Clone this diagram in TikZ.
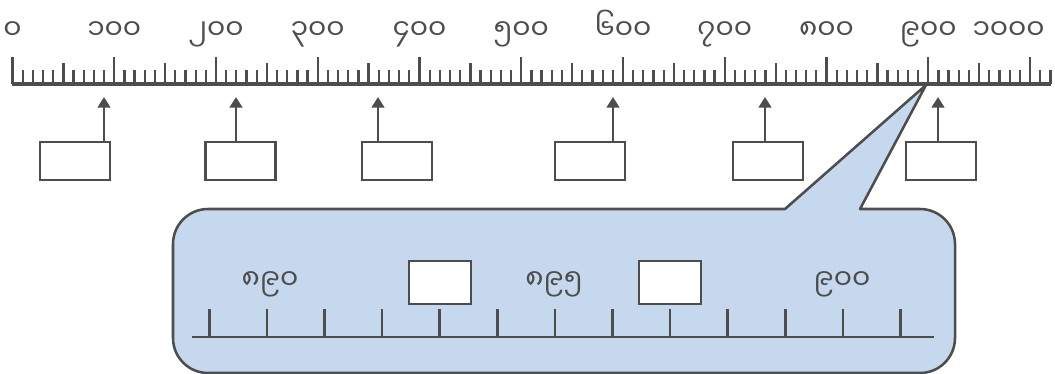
\documentclass[tikz,border=0pt]{standalone}
\usepackage{fontspec}
\newfontfamily\mmfont[Script=Myanmar]{Noto Sans Myanmar UI}
\usetikzlibrary{arrows.meta}
\definecolor{edgegray}{HTML}{4D4D4D}
\definecolor{calloutblue}{HTML}{C5D8EE}
\tikzset{
  numlabel/.style={font=\mmfont\fontsize{21}{23}\selectfont, text=edgegray, anchor=base, inner sep=0pt},
  tickline/.style={draw=edgegray, line width=1.7pt},
  markbox/.style={draw=edgegray, line width=1.9pt, fill=white, inner sep=0pt,
                  minimum width=52.5pt, minimum height=28.5pt},
  zoombox/.style={markbox, minimum width=46.5pt, minimum height=32.25pt},
  pointer/.style={draw=edgegray, line width=1.9pt, -{Triangle[length=8pt,width=9.5pt]}}
}
\begin{document}
\begin{tikzpicture}[x=0.75pt,y=-0.75pt]
\useasboundingbox (0,0) rectangle (1055,374);
% main ruler
\draw[edgegray, line width=2.4pt] (11.5,84) -- (1051,84);
\foreach \i in {0,...,102} \draw[tickline] (12.5+10.175*\i,84) -- ++(0,-14);
\foreach \i in {5,15,...,95} \draw[tickline] (12.5+10.175*\i,84) -- ++(0,-21);
\foreach \i in {0,10,...,100} \draw[tickline] (12.5+10.175*\i,84) -- ++(0,-27);
\foreach \v/\t in {0/၀,1/၁၀၀,2/၂၀၀,3/၃၀၀,4/၄၀၀,5/၅၀၀,6/၆၀၀,7/၇၀၀,8/၈၀၀,9/၉၀၀}
  \node[numlabel] (n\v) at (12.5+101.75*\v,39.5) {\t};
\node[numlabel, anchor=base east] (n10) at (1045,39.5) {၁၀၀၀};
% boxes below the ruler
\node[markbox] (m1) at (75,161) {};
\node[markbox] (m2) at (240.5,161) {};
\node[markbox] (m3) at (397,161) {};
\node[markbox] (m4) at (590,161) {};
\node[markbox] (m5) at (768,161) {};
\node[markbox] (m6) at (941,161) {};
\foreach \k/\x in {1/104,2/236,3/378,4/613,5/765,6/938} {
  \coordinate (p\k) at (\x,97);
  \draw[pointer] (p\k |- m\k.north) -- (p\k);
}
% callout with the zoomed part
\coordinate (tip) at (926,85);
\draw[edgegray, fill=calloutblue, line width=1.9pt, line join=round]
  (tip) -- (785,209) -- (208,209) arc[start angle=90,end angle=180,radius=26.25pt]
  -- (173,338) arc[start angle=180,end angle=270,radius=26.25pt]
  -- (920,373) arc[start angle=270,end angle=360,radius=26.25pt]
  -- (955,244) arc[start angle=0,end angle=90,radius=26.25pt]
  -- (860,209) -- cycle;
\draw[tickline, line width=1.9pt] (192,337) -- (934,337);
\foreach \k in {0,...,12} \draw[tickline, line width=1.9pt] (209.3+57.6*\k,337) -- ++(0,-28);
\node[numlabel] (z1) at (270,289.5) {၈၉၀};
\node[numlabel] (z2) at (554,289.5) {၈၉၅};
\node[numlabel] (z3) at (842,289.5) {၉၀၀};
\node[zoombox] (b1) at (440,282.5) {};
\node[zoombox] (b2) at (670,282.5) {};
\end{tikzpicture}
\end{document}
